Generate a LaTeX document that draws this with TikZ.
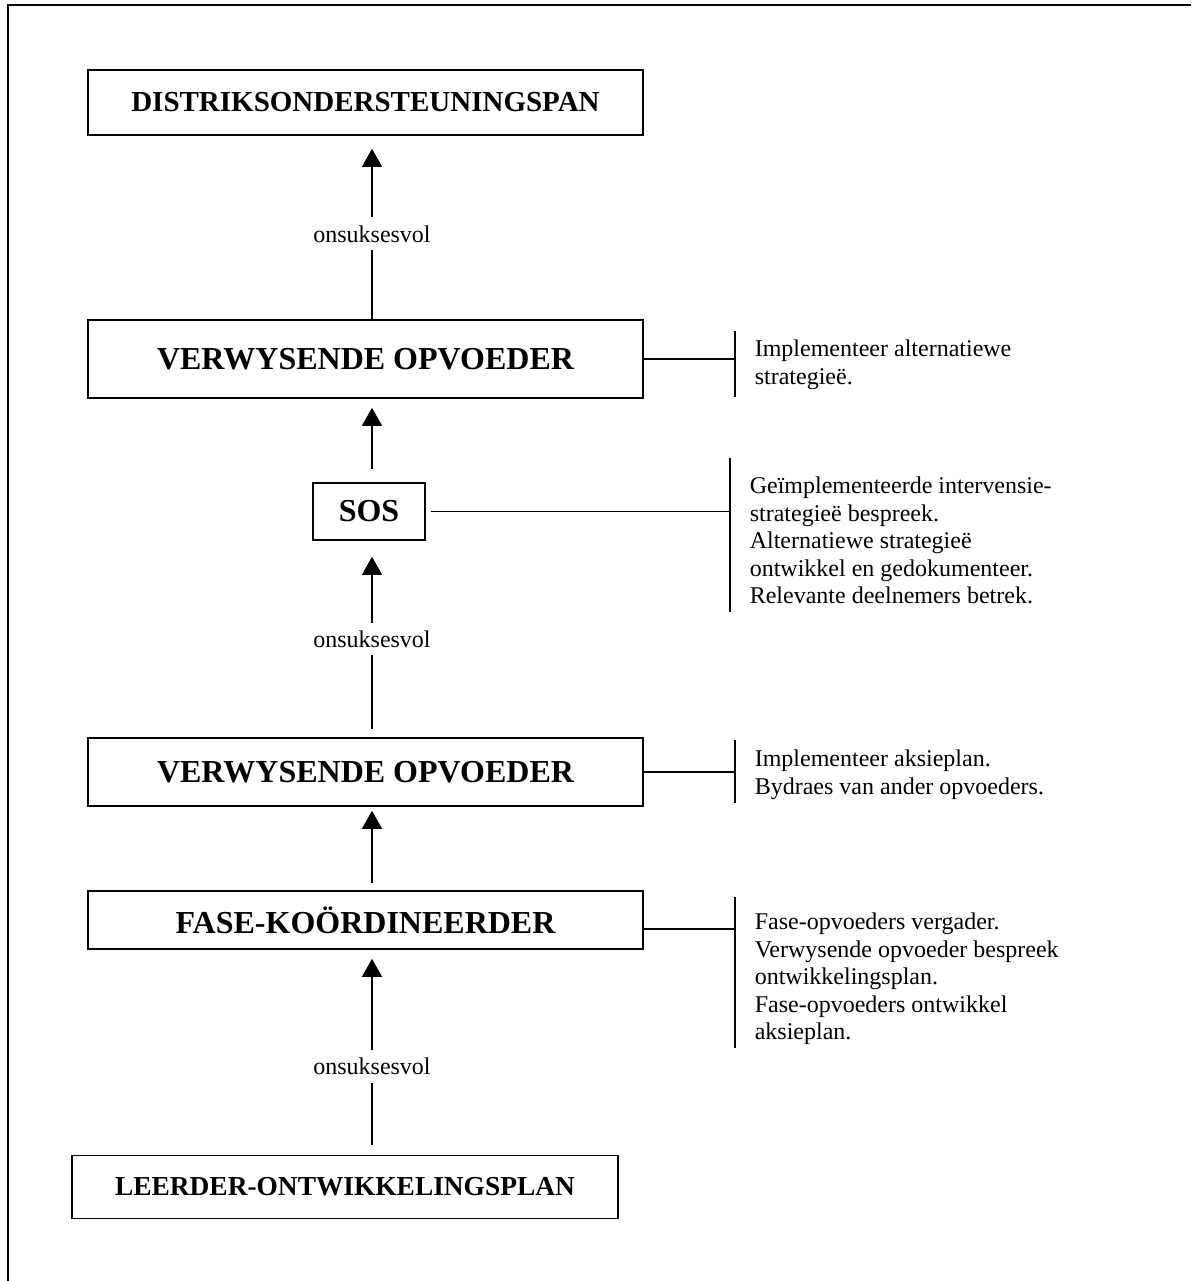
\documentclass[tikz,border=0pt]{standalone}
\usepackage{fontspec}
\setmainfont{Liberation Serif}
\usetikzlibrary{arrows.meta,positioning}

\begin{document}
\begin{tikzpicture}[x=0.5pt, y=-0.5pt, line width=0.8pt,
box/.style={draw, minimum width=277.5pt, inner sep=0pt, font=\fontsize{#1}{18}\selectfont\bfseries},
box/.default=16,
note/.style={anchor=north west, align=left, inner sep=0pt, font=\fontsize{12}{13.8}\selectfont},
up/.style={-{Triangle[width=10pt,length=9pt]}},
fail/.style={fill=white, inner xsep=2pt, inner ysep=4pt, font=\fontsize{12}{13.8}\selectfont}]
\useasboundingbox (0,0) rectangle (1191,1281);
\draw [line width=1pt] (1191,5) -- (8,5) -- (8,1281);

\node [box=14.5, minimum height=32.5pt] (distrik) at (365.5,102.5) {DISTRIKSONDERSTEUNINGSPAN};
\node [box, minimum height=39pt] (verwys1) at (365.5,359) {VERWYSENDE OPVOEDER};
\node [box, minimum width=56pt, minimum height=28.5pt] (sos) at (369,511.5) {SOS};
\node [box, minimum height=34pt] (verwys2) at (365.5,772) {VERWYSENDE OPVOEDER};
\node [box, minimum height=29pt] (fase) at (365.5,920) {FASE-KOÖRDINEERDER};
\node [box=13.7, minimum width=273pt, minimum height=31.5pt] (leerder) at (345,1187) {LEERDER-ONTWIKKELINGSPLAN};

\node [note] (n1) at (754,339) {Implementeer alternatiewe\\strategieë.};
\node [note] (n2) at (749,476) {Geïmplementeerde intervensie-\\strategieë bespreek.\\Alternatiewe strategieë\\ontwikkel en gedokumenteer.\\Relevante deelnemers betrek.};
\node [note] (n3) at (754,749) {Implementeer aksieplan.\\Bydraes van ander opvoeders.};
\node [note] (n4) at (754,912) {Fase-opvoeders vergader.\\Verwysende opvoeder bespreek\\ontwikkelingsplan.\\Fase-opvoeders ontwikkel\\aksieplan.};

\coordinate (b1t) at (735,331); \coordinate (b1b) at (735,397);
\coordinate (b2t) at (730,458); \coordinate (b2b) at (730,612);
\coordinate (b3t) at (735,740); \coordinate (b3b) at (735,803);
\coordinate (b4t) at (735,897); \coordinate (b4b) at (735,1048);
\coordinate (b4h) at (735,929);
\draw (b1t) -- (b1b) (verwys1.east) -- (verwys1.east -| b1t);
\draw (b2t) -- (b2b) ([xshift=2.5pt]sos.east) -- (sos.east -| b2t);
\draw (b3t) -- (b3b) (verwys2.east) -- (verwys2.east -| b3t);
\draw (b4t) -- (b4b) (fase.east |- b4h) -- (b4h);

\draw [up, shorten >=6.5pt] ([xshift=3.25pt]verwys1.north) -- node [fail, pos=0.465] {onsuksesvol} ([xshift=3.25pt]distrik.south);
\draw [up, shorten <=6.5pt, shorten >=4.5pt] ([xshift=1.5pt]sos.north) -- ([xshift=1.5pt]sos.north |- verwys1.south);
\draw [up, shorten <=4pt, shorten >=8pt] ([xshift=3.25pt]verwys2.north) -- node [fail] {onsuksesvol} ([xshift=1.5pt]sos.south);
\draw [up, shorten <=3.5pt, shorten >=2pt] ([xshift=3.25pt]fase.north) -- ([xshift=3.25pt]verwys2.south);
\draw [up, shorten <=5pt, shorten >=4.5pt] (leerder.north -| 372,0) -- node [fail, pos=0.43] {onsuksesvol} ([xshift=3.25pt]fase.south);
\end{tikzpicture}
\end{document}
